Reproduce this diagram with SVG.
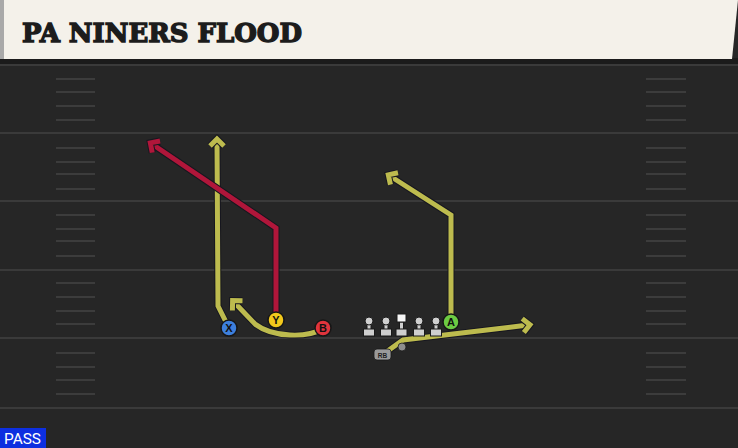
<svg xmlns="http://www.w3.org/2000/svg" width="738" height="448" viewBox="0 0 738 448">
<defs>
<style>
.yard{stroke:#3a3a3a;stroke-width:2}
.hash{stroke:#3c3c3c;stroke-width:2}
.out{fill:none;stroke:#17171f;stroke-width:7;stroke-linejoin:miter;stroke-linecap:butt}
.ry{fill:none;stroke:#bdbb4e;stroke-width:5;stroke-linejoin:miter}
.rr{fill:none;stroke:#b0163a;stroke-width:5;stroke-linejoin:miter}
.pc{stroke:#161616;stroke-width:1.5}
.pl{font-family:"Liberation Sans",Arial,sans-serif;font-weight:bold;font-size:11px;fill:#111;text-anchor:middle}
.ol{fill:#cfcfcf;stroke:#1a1a1a;stroke-width:1}
</style>
<marker id="ay" markerUnits="userSpaceOnUse" markerWidth="24" markerHeight="24" viewBox="-12 -12 24 24" refX="-2" refY="0" orient="auto" overflow="visible">
<path d="M-7,-7 L0,0 L-7,7" fill="none" stroke="#17171f" stroke-width="7"/>
<path d="M-7,-7 L0,0 L-7,7" fill="none" stroke="#bdbb4e" stroke-width="5"/>
</marker>
<marker id="ar" markerUnits="userSpaceOnUse" markerWidth="24" markerHeight="24" viewBox="-12 -12 24 24" refX="-2" refY="0" orient="auto" overflow="visible">
<path d="M-7,-7 L0,0 L-7,7" fill="none" stroke="#17171f" stroke-width="7"/>
<path d="M-7,-7 L0,0 L-7,7" fill="none" stroke="#b0163a" stroke-width="5"/>
</marker>
</defs>
<rect x="0" y="0" width="738" height="448" fill="#262626"/>
<rect x="0" y="58" width="738" height="7" fill="#1b1b1b"/>
<g id="field">
<line class="yard" x1="0" y1="65" x2="738" y2="65"/>
<line class="yard" x1="0" y1="133" x2="738" y2="133"/>
<line class="yard" x1="0" y1="201" x2="738" y2="201"/>
<line class="yard" x1="0" y1="270" x2="738" y2="270"/>
<line class="yard" x1="0" y1="338" x2="738" y2="338"/>
<line class="yard" x1="0" y1="408" x2="738" y2="408"/>
<g id="hash-left">
<line class="hash" x1="56" y1="79" x2="95" y2="79"/>
<line class="hash" x1="56" y1="92" x2="95" y2="92"/>
<line class="hash" x1="56" y1="106" x2="95" y2="106"/>
<line class="hash" x1="56" y1="120" x2="95" y2="120"/>
<line class="hash" x1="56" y1="148" x2="95" y2="148"/>
<line class="hash" x1="56" y1="162" x2="95" y2="162"/>
<line class="hash" x1="56" y1="174" x2="95" y2="174"/>
<line class="hash" x1="56" y1="189" x2="95" y2="189"/>
<line class="hash" x1="56" y1="215" x2="95" y2="215"/>
<line class="hash" x1="56" y1="229" x2="95" y2="229"/>
<line class="hash" x1="56" y1="241" x2="95" y2="241"/>
<line class="hash" x1="56" y1="256" x2="95" y2="256"/>
<line class="hash" x1="56" y1="283" x2="95" y2="283"/>
<line class="hash" x1="56" y1="297" x2="95" y2="297"/>
<line class="hash" x1="56" y1="311" x2="95" y2="311"/>
<line class="hash" x1="56" y1="324" x2="95" y2="324"/>
<line class="hash" x1="56" y1="353" x2="95" y2="353"/>
<line class="hash" x1="56" y1="367" x2="95" y2="367"/>
<line class="hash" x1="56" y1="380" x2="95" y2="380"/>
<line class="hash" x1="56" y1="394" x2="95" y2="394"/>
</g>
<g id="hash-right">
<line class="hash" x1="646" y1="79" x2="686" y2="79"/>
<line class="hash" x1="646" y1="92" x2="686" y2="92"/>
<line class="hash" x1="646" y1="106" x2="686" y2="106"/>
<line class="hash" x1="646" y1="120" x2="686" y2="120"/>
<line class="hash" x1="646" y1="148" x2="686" y2="148"/>
<line class="hash" x1="646" y1="162" x2="686" y2="162"/>
<line class="hash" x1="646" y1="174" x2="686" y2="174"/>
<line class="hash" x1="646" y1="189" x2="686" y2="189"/>
<line class="hash" x1="646" y1="215" x2="686" y2="215"/>
<line class="hash" x1="646" y1="229" x2="686" y2="229"/>
<line class="hash" x1="646" y1="241" x2="686" y2="241"/>
<line class="hash" x1="646" y1="256" x2="686" y2="256"/>
<line class="hash" x1="646" y1="283" x2="686" y2="283"/>
<line class="hash" x1="646" y1="297" x2="686" y2="297"/>
<line class="hash" x1="646" y1="311" x2="686" y2="311"/>
<line class="hash" x1="646" y1="324" x2="686" y2="324"/>
<line class="hash" x1="646" y1="353" x2="686" y2="353"/>
<line class="hash" x1="646" y1="367" x2="686" y2="367"/>
<line class="hash" x1="646" y1="380" x2="686" y2="380"/>
<line class="hash" x1="646" y1="394" x2="686" y2="394"/>
</g>
</g>
<g id="title">
<polygon points="0,0 738,0 732,59 0,59" fill="#f4f1ea"/>
<rect x="0" y="0" width="4" height="59" fill="#a9a9a9"/>
<text x="22" y="42" font-family="'DejaVu Serif',serif" font-weight="bold" font-size="26" fill="#1c1c1c" stroke="#1c1c1c" stroke-width="1.4" stroke-linejoin="miter" textLength="280" lengthAdjust="spacingAndGlyphs">PA NINERS FLOOD</text>
</g>
<g id="connectors">
<path class="out" d="M229,328 L218,306 L217,141"/>
<path class="ry" d="M229,328 L218,306 L217,141" marker-end="url(#ay)"/>
<path class="out" d="M276,320 L276,228 L152,144"/>
<path class="rr" d="M276,320 L276,228 L152,144" marker-end="url(#ar)"/>
<path class="out" d="M323,329 Q310,336 290,335 Q268,334 255,324 L234,302"/>
<path class="ry" d="M323,329 Q310,336 290,335 Q268,334 255,324 L234,302" marker-end="url(#ay)"/>
<path class="out" d="M451,322 L451,215 L390,176"/>
<path class="ry" d="M451,322 L451,215 L390,176" marker-end="url(#ay)"/>
<path class="out" d="M382,355 L403,340 L528,325"/>
<path class="ry" d="M382,355 L403,340 L528,325" marker-end="url(#ay)"/>
</g>
<g id="line">
<g id="lt"><rect class="ol" x="367" y="323" width="4" height="8"/><circle class="ol" cx="369" cy="321" r="4"/><rect class="ol" x="363.5" y="329" width="11" height="7"/></g>
<g id="lg"><rect class="ol" x="384" y="323" width="4" height="8"/><circle class="ol" cx="386" cy="321" r="4"/><rect class="ol" x="380.5" y="329" width="11" height="7"/></g>
<g id="c"><rect class="ol" x="399.5" y="322" width="4" height="8"/><rect x="397" y="314" width="9" height="8" fill="#f6f6f6" stroke="#1a1a1a" stroke-width="1"/><rect class="ol" x="396" y="329" width="11" height="7"/></g>
<g id="rg"><rect class="ol" x="417" y="323" width="4" height="8"/><circle class="ol" cx="419" cy="321" r="4"/><rect class="ol" x="413.5" y="329" width="11" height="7"/></g>
<g id="rt"><rect class="ol" x="434" y="323" width="4" height="8"/><circle class="ol" cx="436" cy="321" r="4"/><rect class="ol" x="430.5" y="329" width="11" height="7"/></g>
</g>
<g id="rb">
<circle cx="402" cy="347" r="4" fill="#8e8e8e" stroke="#1a1a1a" stroke-width="0.8"/>
<rect x="374" y="349" width="17" height="11" rx="3" fill="#9a9a9a" stroke="#1a1a1a" stroke-width="0.8"/>
<text x="382.5" y="357.5" font-family="'Liberation Sans',Arial,sans-serif" font-size="6.5" font-weight="bold" fill="#222" text-anchor="middle">RB</text>
</g>
<g id="X"><circle class="pc" cx="229" cy="328" r="8" fill="#3d7fdc"/><text class="pl" x="229" y="332">X</text></g>
<g id="Y"><circle class="pc" cx="276" cy="320" r="8" fill="#f2c81c"/><text class="pl" x="276" y="324">Y</text></g>
<g id="B"><circle class="pc" cx="323" cy="328" r="8" fill="#e0343c"/><text class="pl" x="323" y="332">B</text></g>
<g id="A"><circle class="pc" cx="451" cy="322" r="8" fill="#6ccb43"/><text class="pl" x="451" y="326">A</text></g>
<g id="pass">
<rect x="0" y="428" width="46" height="20" fill="#0d2fe0"/>
<text x="4" y="444" font-family="Roboto,'Liberation Sans',sans-serif" font-size="15" fill="#ffffff" textLength="37" lengthAdjust="spacingAndGlyphs">PASS</text>
</g>
</svg>
